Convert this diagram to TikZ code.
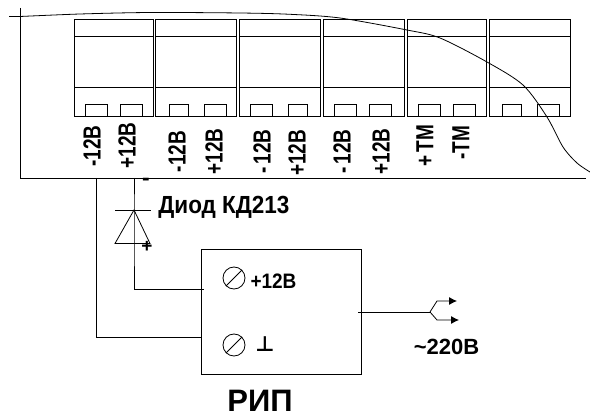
\documentclass[tikz,border=0pt]{standalone}
\usepackage{fontspec}
\setmainfont{Liberation Sans}
\newfontfamily\symfont{DejaVu Sans}
\usetikzlibrary{arrows.meta}
\tikzset{
	lbl/.style={font=\fontsize{19}{19}\selectfont\bfseries,inner sep=0pt},
	vlbl/.style={lbl,rotate=90,yscale=1.3},
	title/.style={font=\fontsize{31}{31}\selectfont\bfseries,inner sep=0pt},
	screw/.style={draw,circle,line width=0.8pt,minimum size=22pt,inner sep=0pt},
}
\begin{document}
\begin{tikzpicture}[x=1pt,y=-1pt,line width=0.8pt]
		\useasboundingbox (0,0) rectangle (590,417);
		
		% cabinet outline and cut line
		\draw (20,8) -- (20,178) -- (586,178);
		\draw (9,16.5) -- (20,16.5);
		\draw plot[smooth] coordinates {(20,16.5) (80,14) (150,12.5) (240,13) (290,14.3) (340,18) (407,30) (440,38) (487,62) (523,85) (547,117) (563,147) (577,163) (590,172)};
		
		% modules
		\foreach \xa/\xb in {74.5/153,155.5/236.5,239.5/320.5,323.5/404.5,407.5/486,489/570}{
			\draw (\xa,19) rectangle (\xb,116);
			\draw (\xa,36) -- (\xb,36);
			\draw (\xa,87.5) -- (\xb,87.5);
		}
		
		% terminals
		\foreach \xa/\xb in {85/107,120/142,169/188,204/226,250/272,288/307,334/356,369/391,418/440,453/475,502/521,537/559}{
			\draw (\xa,104.5) rectangle (\xb,116);
		}
		
		\node[vlbl] (la) at (92,146) {-12В};
		\node[vlbl] (lb) at (127,145.5) {+12В};
		\node[vlbl] (lc) at (177,151.5) {-12В};
		\node[vlbl] (ld) at (214,151.5) {+12В};
		\node[vlbl] (le) at (262,151.5) {-\,12В};
		\node[vlbl] (lf) at (297,153) {+12В};
		\node[vlbl] (lg) at (342,151.5) {-\,12В};
		\node[vlbl] (lh) at (381,151.5) {+12В};
		\node[vlbl] (li) at (425,146) {+\,ТМ};
		\node[vlbl] (lj) at (461,142.5) {-ТМ};
		
		% power supply
		\node[draw,line width=0.8pt,minimum width=160pt,minimum height=125pt,inner sep=0pt] (rip) at (281.5,311.8) {};
		\node[title] (riptxt) at (260,401) {РИП};
		\node[screw] (scra) at (234,278) {};
		\node[screw] (scrb) at (234,345) {};
		\draw (scra.225) -- (scra.45);
		\draw (scrb.225) -- (scrb.45);
		\node[lbl,yscale=1.1] (plus) at (273.5,281) {+12В};
		\node[inner sep=0pt,font=\fontsize{21}{21}\selectfont\symfont\bfseries] (gnd) at (265,344) {⊥};
		
		% diode
		\coordinate (wa) at (96,178);
		\coordinate (wb) at (134,178);
		\coordinate (ripa) at (204,289);
		\coordinate (ripb) at (201.5,337);
		\coordinate (da) at (134,210);
		\coordinate (db) at (134,243.5);
		\draw (wa) |- (ripb);
		\draw (wb) -- (da) -- (db) |- (ripa);
		\draw (115,210) -- (151,210);
		\draw (da) -- (115,243.5) -- (150,243.5) -- cycle;
		\node[lbl,scale=1.2] (dmin) at (146,181.5) {-};
		\node[lbl] (dpl) at (147,247) {+};
		\node[lbl,anchor=west,font=\fontsize{22.5}{22}\selectfont\bfseries,yscale=1.1] (dtxt) at (158,207) {Диод КД213};
		
		% output
		\coordinate (oa) at (358,312);
		\coordinate (ob) at (430,312);
		\coordinate (oc) at (457,301);
		\coordinate (od) at (459,320);
		\draw (oa) -- (ob);
		\draw[-{Latex[length=8pt,width=8pt]}] (ob) -- (437,301) -- (oc);
		\draw[-{Latex[length=8pt,width=8pt]}] (ob) -- (437,320) -- (od);
		\node[lbl,font=\fontsize{22}{22}\selectfont\bfseries] (ac) at (446.5,347) {\string~220В};
\end{tikzpicture}
\end{document}
